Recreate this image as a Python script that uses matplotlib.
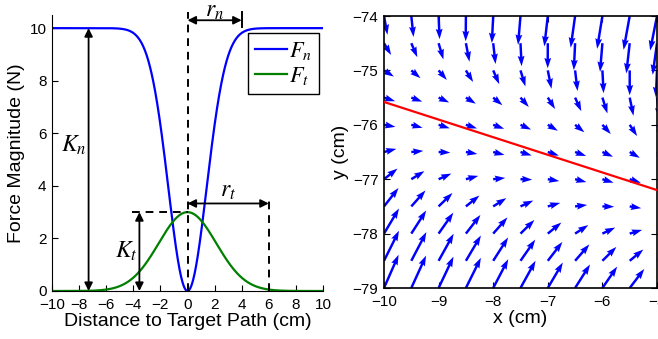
import numpy as np
import matplotlib
matplotlib.use("Agg")
import matplotlib.pyplot as plt

plt.rcParams['font.family'] = ['Liberation Sans', 'DejaVu Sans']
plt.rcParams['mathtext.fontset'] = 'stix'

# model parameters
Kn, rn = 10.0, 4.0      # normal force gain (N), radius (cm)
Kt, rt = 3.0, 6.0       # tangential force gain (N), radius (cm)

# target path in the right panel (cm)
path_x = [-10.0, -5.0]
path_y = [-75.58, -77.2]

# quiver grid (cm)
grid_x = np.arange(-10, -4.99, 0.5)
grid_y = np.arange(-79, -73.99, 0.5)

xticks_l = [-10, -8, -6, -4, -2, 0, 2, 4, 6, 8, 10]
yticks_l = [0, 2, 4, 6, 8, 10]
xticks_r = [-10, -9, -8, -7, -6, -5]
yticks_r = [-79, -78, -77, -76, -75, -74]


def f_normal(d):
    return Kn * (1 - np.exp(-4 * d**2 / rn**2))


def f_tangent(d):
    return Kt * np.exp(-4 * d**2 / rt**2)


def minus(v):
    return '\u2212%d' % -v if v < 0 else '%d' % v


fig = plt.figure(figsize=(6.58, 3.39), dpi=100)
W, H = 658, 339

# ---------------- left panel ----------------
ax = fig.add_axes([52 / W, (H - 291) / H, (323 - 52) / W, (291 - 15) / H])
d = np.linspace(-10, 10, 801)
ax.plot(d, f_normal(d), color='#0000ff', lw=1.6, label=r'$F_n$')
ax.plot(d, f_tangent(d), color='#007f00', lw=1.6, label=r'$F_t$')
ax.set_xlim(-10, 10)
ax.set_ylim(0, 10.5)
ax.set_xticks(xticks_l)
ax.set_yticks(yticks_l)
ax.set_xticklabels([minus(v) for v in xticks_l])
ax.spines['top'].set_visible(False)
ax.spines['right'].set_visible(False)
ax.tick_params(direction='in', length=4, labelsize=11)
ax.tick_params(axis='x', pad=5)
ax.tick_params(axis='y', pad=4)
ax.set_xlabel('Distance to Target Path (cm)', fontsize=14, labelpad=1)
ax.set_ylabel('Force Magnitude (N)', fontsize=14, labelpad=3)

dash = dict(color='k', lw=1.4, ls=(0, (4, 3)), clip_on=False)
ax.plot([0, 0], [0, 10.6], **dash)
ax.plot([-4.1, 0], [Kt, Kt], **dash)
ax.plot([rt, rt], [0, 3.6], **dash)
ax.plot([rn, rn], [10.04, 10.62], color='k', lw=1.4, clip_on=False)

arr = dict(arrowstyle='<|-|>', color='k', lw=1.3, mutation_scale=12,
           shrinkA=0, shrinkB=0)
ax.annotate('', xy=(-7.3, Kn), xytext=(-7.3, 0), arrowprops=arr, annotation_clip=False)
ax.annotate('', xy=(-3.55, Kt), xytext=(-3.55, 0), arrowprops=arr, annotation_clip=False)
ax.annotate('', xy=(rn, 10.3), xytext=(0, 10.3), arrowprops=arr, annotation_clip=False)
ax.annotate('', xy=(rt, 3.33), xytext=(0, 3.33), arrowprops=arr, annotation_clip=False)

ax.text(-8.4, 5.3, r'$K_n$', fontsize=17, ha='center', va='baseline')
ax.text(-4.55, 1.27, r'$K_t$', fontsize=17, ha='center', va='baseline')
ax.text(2.0, 10.42, r'$r_n$', fontsize=17, ha='center', va='baseline', clip_on=False)
ax.text(3.0, 3.6, r'$r_t$', fontsize=17, ha='center', va='baseline')

leg = ax.legend(loc='upper right', bbox_to_anchor=(0.985, 0.935), fontsize=16,
                handlelength=1.45, handletextpad=0.1, borderpad=0.3,
                labelspacing=0.15, fancybox=False, framealpha=1, borderaxespad=0.0)
leg.get_frame().set_edgecolor('k')
leg.get_frame().set_linewidth(1.0)

# ---------------- right panel ----------------
ax2 = fig.add_axes([384 / W, (H - 288) / H, (657 - 384) / W, (288 - 16) / H])
X, Y = np.meshgrid(grid_x, grid_y)
p0 = np.array([path_x[0], path_y[0]])
t = np.array([path_x[1] - path_x[0], path_y[1] - path_y[0]])
t = t / np.hypot(*t)
nrm = np.array([-t[1], t[0]])          # points to the upper side of the path
dist = (X - p0[0]) * nrm[0] + (Y - p0[1]) * nrm[1]
fn = f_normal(dist)
ft = f_tangent(dist)
U = -np.sign(dist) * fn * nrm[0] + ft * t[0]
V = -np.sign(dist) * fn * nrm[1] + ft * t[1]
ax2.quiver(X, Y, U, V, color='#0000ff', angles='xy', scale_units='xy',
           scale=14.0, width=0.009, headwidth=2.8, headlength=4.2,
           headaxislength=3.8, pivot='tail', zorder=2)
ax2.plot(path_x, path_y, color='#ff0000', lw=1.6, zorder=3)
ax2.set_xlim(-10, -5)
ax2.set_ylim(-79, -74)
ax2.set_xticks(xticks_r)
ax2.set_yticks(yticks_r)
ax2.set_xticklabels([minus(v) for v in xticks_r])
ax2.set_yticklabels([minus(v) for v in yticks_r])
ax2.tick_params(direction='in', length=4, labelsize=11, top=True, right=True)
ax2.tick_params(axis='x', pad=5)
ax2.tick_params(axis='y', pad=4)
for s in ax2.spines.values():
    s.set_linewidth(1.2)
ax2.set_xlabel('x (cm)', fontsize=14, labelpad=1)
ax2.set_ylabel('y (cm)', fontsize=14, labelpad=3)

fig.savefig('out.png', dpi=100)
